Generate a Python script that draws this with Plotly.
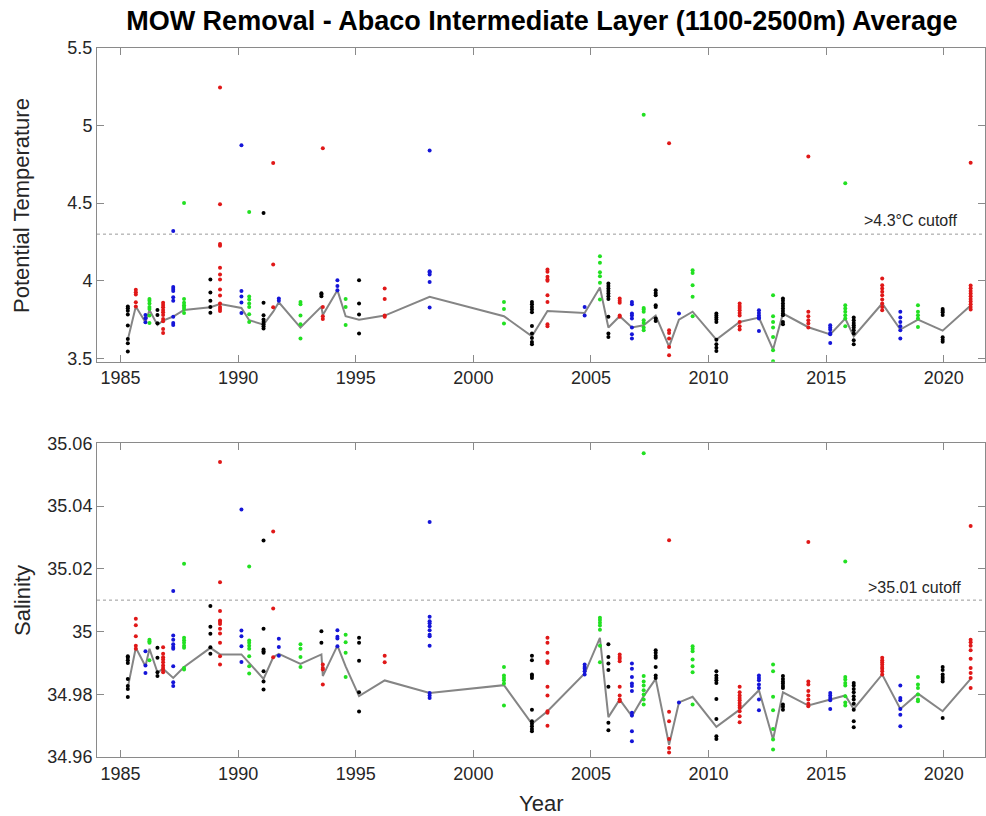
import plotly.graph_objects as go

# ---------------- data ----------------
cruise_years = [1985.31, 1985.65, 1986.06, 1986.23, 1986.57, 1986.81, 1987.24, 1987.70,
                1988.82, 1989.23, 1990.14, 1990.47, 1991.08, 1991.49, 1991.73, 1992.65,
                1993.54, 1993.60, 1994.22, 1994.57, 1995.14, 1996.23, 1998.14, 2001.30,
                2002.49, 2003.15, 2004.73, 2005.38, 2005.74, 2006.22, 2006.74, 2007.24,
                2007.75, 2008.32, 2008.74, 2009.32, 2010.33, 2011.32, 2012.14, 2012.74,
                2013.16, 2014.24, 2015.17, 2015.81, 2016.17, 2017.38, 2018.15, 2018.90,
                2019.95, 2021.14]

cruise_colors = ["k", "r", "b", "g"] * 12 + ["k", "r"]

temp_points = [
    [3.833, 3.822, 3.807, 3.782, 3.711, 3.624, 3.596, 3.543],
    [3.941, 3.926, 3.911, 3.861, 3.833],
    [3.779, 3.758, 3.732],
    [3.882, 3.870, 3.853, 3.831, 3.818, 3.775, 3.727],
    [3.811, 3.779, 3.725],
    [3.857, 3.844, 3.829, 3.811, 3.796, 3.779, 3.753, 3.738, 3.689, 3.663],
    [4.320, 3.960, 3.947, 3.934, 3.893, 3.870, 3.767, 3.727, 3.714],
    [4.501, 3.882, 3.857, 3.842, 3.831, 3.818, 3.792],
    [4.008, 3.924, 3.870, 3.831, 3.794],
    [5.246, 4.492, 4.236, 4.225, 4.083, 4.040, 4.008, 3.943, 3.904, 3.853, 3.831, 3.818, 3.805],
    [4.873, 3.934, 3.898, 3.859, 3.792],
    [4.443, 3.898, 3.879, 3.853, 3.831, 3.784, 3.734],
    [4.436, 3.857, 3.777, 3.749, 3.734, 3.719, 3.706, 3.691],
    [4.759, 4.105, 3.829],
    [3.885, 3.870],
    [3.863, 3.848, 3.775, 3.719, 3.627],
    [3.919, 3.911, 3.900],
    [4.854, 3.831, 3.771, 3.753],
    [4.003, 3.965, 3.939],
    [3.882, 3.831, 3.714],
    [4.003, 3.853, 3.782, 3.659],
    [3.950, 3.882, 3.775, 3.767],
    [4.839, 4.061, 4.053, 4.040, 3.992, 3.827],
    [3.863, 3.818, 3.724],
    [3.863, 3.848, 3.831, 3.814, 3.797, 3.708, 3.659, 3.630, 3.605, 3.590],
    [4.072, 4.057, 4.025, 4.008, 3.999, 3.906, 3.863, 3.719, 3.706],
    [3.831, 3.775],
    [4.158, 4.115, 4.055, 4.029, 3.986, 3.879],
    [3.982, 3.965, 3.950, 3.934, 3.917, 3.900, 3.882, 3.767, 3.659, 3.637],
    [3.885, 3.870, 3.857, 3.775, 3.767],
    [3.863, 3.848, 3.788, 3.775, 3.756, 3.698, 3.654, 3.627],
    [5.069, 3.824, 3.814, 3.799, 3.745, 3.727, 3.698, 3.680],
    [3.939, 3.921, 3.906, 3.842, 3.831, 3.756, 3.740],
    [4.886, 3.680, 3.663, 3.627, 3.572, 3.519],
    [3.788],
    [4.068, 4.050, 3.971, 3.896, 3.771],
    [3.788, 3.775, 3.762, 3.749, 3.734, 3.620, 3.590, 3.568, 3.547],
    [3.853, 3.837, 3.824, 3.809, 3.792, 3.775, 3.734, 3.706, 3.685],
    [3.809, 3.792, 3.775, 3.762, 3.756, 3.676],
    [3.906, 3.771, 3.734, 3.698, 3.637, 3.551, 3.480],
    [3.885, 3.870, 3.853, 3.837, 3.820, 3.805, 3.788, 3.777, 3.734, 3.719],
    [4.800, 3.799, 3.771, 3.745, 3.724, 3.698],
    [3.713, 3.698, 3.685, 3.663, 3.654, 3.598],
    [4.628, 3.842, 3.820, 3.799, 3.777, 3.756, 3.706],
    [3.762, 3.745, 3.727, 3.713, 3.698, 3.680, 3.659, 3.616, 3.590],
    [4.014, 3.971, 3.950, 3.928, 3.906, 3.879, 3.853, 3.831, 3.809],
    [3.799, 3.762, 3.734, 3.706, 3.680, 3.627],
    [3.842, 3.799, 3.777, 3.756, 3.702],
    [3.818, 3.807, 3.796, 3.779, 3.635, 3.620, 3.607],
    [4.761, 3.969, 3.952, 3.934, 3.917, 3.900, 3.882, 3.866, 3.848, 3.831, 3.814],
]

mean_temp = [3.620, 3.833, 3.732, 3.811, 3.714, 3.743, 3.769, 3.811, 3.829, 3.850,
             3.824, 3.745, 3.717, 3.800, 3.861, 3.698, 3.833, 3.779, 3.939, 3.771,
             3.749, 3.775, 3.896, 3.771, 3.641, 3.805, 3.792, 3.956, 3.698, 3.771,
             3.698, 3.713, 3.775, 3.575, 3.749, 3.800, 3.620, 3.734, 3.762, 3.556,
             3.788, 3.700, 3.654, 3.756, 3.641, 3.853, 3.685, 3.749, 3.678, 3.840]

sal_points = [
    [34.9921, 34.9916, 34.9908, 34.9900, 34.9849, 34.9826, 34.9817, 34.9791],
    [35.0041, 35.0020, 34.9985, 34.9955, 34.9945],
    [34.9937, 34.9892, 34.9868],
    [34.9974, 34.9969, 34.9964, 34.9908],
    [34.9948, 34.9916, 34.9870, 34.9858],
    [34.9950, 34.9929, 34.9918, 34.9911, 34.9902, 34.9892, 34.9884, 34.9877, 34.9870],
    [35.0129, 34.9987, 34.9974, 34.9959, 34.9951, 34.9945, 34.9889, 34.9838, 34.9826],
    [35.0216, 34.9980, 34.9972, 34.9964, 34.9955, 34.9948, 34.9884, 34.9879],
    [35.0081, 35.0015, 34.9993, 34.9950, 34.9929],
    [35.0540, 35.0157, 35.0065, 35.0035, 35.0030, 35.0024, 35.0009, 34.9994, 34.9964, 34.9921, 34.9895],
    [35.0389, 35.0003, 34.9985, 34.9953, 34.9903],
    [35.0207, 34.9971, 34.9964, 34.9955, 34.9945, 34.9921, 34.9889, 34.9866],
    [35.0290, 35.0009, 34.9943, 34.9937, 34.9932, 34.9873, 34.9841, 34.9815],
    [35.0319, 35.0073, 34.9918],
    [34.9977, 34.9951, 34.9923],
    [34.9959, 34.9945, 34.9919, 34.9887],
    [35.0001, 34.9964],
    [34.9895, 34.9884, 34.9879, 34.9831],
    [35.0004, 34.9983, 34.9978, 34.9953],
    [34.9990, 34.9966, 34.9932, 34.9855],
    [34.9980, 34.9964, 34.9907, 34.9806, 34.9745],
    [34.9923, 34.9902],
    [35.0349, 35.0047, 35.0033, 35.0026, 35.0017, 35.0004, 34.9990, 34.9985, 34.9955, 34.9804, 34.9796, 34.9788],
    [34.9887, 34.9860, 34.9852, 34.9845, 34.9834, 34.9764],
    [34.9923, 34.9908, 34.9863, 34.9858, 34.9852, 34.9751, 34.9714, 34.9706, 34.9698, 34.9689, 34.9682],
    [34.9980, 34.9964, 34.9932, 34.9905, 34.9900, 34.9824, 34.9796, 34.9746, 34.9741, 34.9700],
    [34.9895, 34.9887, 34.9881, 34.9873, 34.9863],
    [35.0044, 35.0037, 35.0028, 35.0019, 35.0006, 34.9955, 34.9902],
    [34.9959, 34.9919, 34.9898, 34.9877, 34.9824, 34.9709, 34.9685],
    [34.9927, 34.9919, 34.9913, 34.9905, 34.9824, 34.9796, 34.9783, 34.9778],
    [34.9898, 34.9881, 34.9855, 34.9834, 34.9826, 34.9810, 34.9741, 34.9732, 34.9682, 34.9650],
    [35.0568, 34.9858, 34.9841, 34.9828, 34.9813, 34.9799, 34.9783, 34.9767],
    [34.9940, 34.9932, 34.9923, 34.9916, 34.9887, 34.9860, 34.9852],
    [35.0291, 34.9744, 34.9714, 34.9657, 34.9629, 34.9614],
    [34.9774],
    [34.9953, 34.9945, 34.9937, 34.9911, 34.9889, 34.9870, 34.9767],
    [34.9873, 34.9860, 34.9852, 34.9845, 34.9836, 34.9785, 34.9721, 34.9666, 34.9657],
    [34.9824, 34.9806, 34.9796, 34.9788, 34.9781, 34.9772, 34.9764, 34.9757, 34.9746, 34.9730, 34.9711],
    [34.9860, 34.9852, 34.9845, 34.9831, 34.9820, 34.9783, 34.9749],
    [34.9895, 34.9873, 34.9792, 34.9749, 34.9689, 34.9656, 34.9624],
    [34.9858, 34.9849, 34.9841, 34.9834, 34.9826, 34.9820, 34.9767, 34.9760, 34.9751],
    [35.0285, 34.9841, 34.9831, 34.9810, 34.9796, 34.9783, 34.9770, 34.9762],
    [34.9804, 34.9796, 34.9788, 34.9781, 34.9753],
    [35.0223, 34.9855, 34.9847, 34.9836, 34.9828, 34.9794, 34.9774, 34.9764],
    [34.9836, 34.9828, 34.9817, 34.9806, 34.9794, 34.9783, 34.9770, 34.9751, 34.9714, 34.9695],
    [34.9916, 34.9908, 34.9902, 34.9895, 34.9887, 34.9881, 34.9873, 34.9863],
    [34.9828, 34.9788, 34.9781, 34.9753, 34.9735, 34.9698],
    [34.9855, 34.9831, 34.9820, 34.9799, 34.9783, 34.9778],
    [34.9887, 34.9877, 34.9863, 34.9855, 34.9849, 34.9841, 34.9724],
    [35.0336, 34.9974, 34.9966, 34.9955, 34.9940, 34.9913, 34.9884, 34.9868, 34.9852, 34.9820],
]

mean_sal = [34.9822, 34.9948, 34.9889, 34.9945, 34.9870, 34.9881, 34.9852, 34.9887, 34.9948, 34.9927,
            34.9927, 34.9900, 34.9849, 34.9918, 34.9929, 34.9897, 34.9927, 34.9858, 34.9955, 34.9889,
            34.9794, 34.9844, 34.9804, 34.9829, 34.9706, 34.9746, 34.9866, 34.9980, 34.9727, 34.9783,
            34.9730, 34.9794, 34.9849, 34.9639, 34.9774, 34.9792, 34.9696, 34.9751, 34.9813, 34.9656,
            34.9806, 34.9764, 34.9783, 34.9796, 34.9753, 34.9863, 34.9753, 34.9802, 34.9746, 34.9849]

temp_cutoff = 4.3
sal_cutoff = 35.01
temp_cutoff_label = ">4.3°C cutoff"
sal_cutoff_label = ">35.01 cutoff"

x_ticks = [1985, 1990, 1995, 2000, 2005, 2010, 2015, 2020]
temp_ticks = [3.5, 4, 4.5, 5, 5.5]
temp_ticktext = ["3.5", "4", "4.5", "5", "5.5"]
sal_ticks = [34.96, 34.98, 35.0, 35.02, 35.04, 35.06]
sal_ticktext = ["34.96", "34.98", "35", "35.02", "35.04", "35.06"]

title_text = "MOW Removal - Abaco Intermediate Layer (1100-2500m) Average"

# ---------------- styling ----------------
COLOR_MAP = {"k": "#000000", "r": "#e01818", "b": "#1515d8", "g": "#22e022"}
FONT = "Liberation Sans, Arial, Helvetica, sans-serif"
AXIS_COL = "#8a8a8a"
TXT_COL = "#262626"

fig = go.Figure()


def add_points(values, xa, ya):
    for code in ["k", "r", "b", "g"]:
        xs, ys = [], []
        for yr, col, vals in zip(cruise_years, cruise_colors, values):
            if col == code:
                xs.extend([yr] * len(vals))
                ys.extend(vals)
        fig.add_trace(go.Scatter(x=xs, y=ys, mode="markers", xaxis=xa, yaxis=ya,
                                 marker=dict(size=4, color=COLOR_MAP[code], line=dict(width=0)),
                                 showlegend=False, hoverinfo="x+y"))


def add_mean(values, xa, ya):
    fig.add_trace(go.Scatter(x=cruise_years, y=values, mode="lines", xaxis=xa, yaxis=ya,
                             line=dict(color="#858585", width=2), showlegend=False))


add_mean(mean_temp, "x", "y")
add_points(temp_points, "x", "y")
add_mean(mean_sal, "x2", "y2")
add_points(sal_points, "x2", "y2")

# cutoff lines
fig.add_shape(type="line", xref="x domain", yref="y", x0=0, x1=1, y0=temp_cutoff, y1=temp_cutoff,
              line=dict(color="#9a9a9a", width=1, dash="3px,3px"))
fig.add_shape(type="line", xref="x2 domain", yref="y2", x0=0, x1=1, y0=sal_cutoff, y1=sal_cutoff,
              line=dict(color="#9a9a9a", width=1, dash="3px,3px"))

axis_common = dict(showline=True, linecolor=AXIS_COL, linewidth=1, mirror="ticks",
                   ticks="inside", ticklen=7, tickcolor=AXIS_COL, tickwidth=1,
                   showgrid=False, zeroline=False,
                   tickfont=dict(family=FONT, size=18, color=TXT_COL))

x_range = [1984, 2021.75]

fig.update_layout(
    width=986, height=816,
    margin=dict(l=97, r=1, t=48, b=59),
    paper_bgcolor="white", plot_bgcolor="white",
    xaxis=dict(domain=[0, 1], range=x_range, tickvals=x_ticks, anchor="y", **axis_common),
    yaxis=dict(domain=[0.5576, 1.0], range=[3.478, 5.5], tickvals=temp_ticks,
               ticktext=temp_ticktext, anchor="x", **axis_common),
    xaxis2=dict(domain=[0, 1], range=x_range, tickvals=x_ticks, anchor="y2", **axis_common),
    yaxis2=dict(domain=[0.0, 0.4425], range=[34.96, 35.06], tickvals=sal_ticks,
                ticktext=sal_ticktext, anchor="x2", **axis_common),
    title=dict(text="<b>" + title_text + "</b>", x=0.5495, xanchor="center",
               y=1 - 21 / 816, yanchor="middle", yref="container",
               font=dict(family=FONT, size=27, color="#000000")),
    showlegend=False,
)

annots = [
    dict(text=temp_cutoff_label, xref="x", yref="y", x=2020.65, y=temp_cutoff,
         xanchor="right", yanchor="bottom", yshift=3, showarrow=False,
         font=dict(family=FONT, size=16, color=TXT_COL)),
    dict(text=sal_cutoff_label, xref="x2", yref="y2", x=2020.8, y=sal_cutoff,
         xanchor="right", yanchor="bottom", yshift=2, showarrow=False,
         font=dict(family=FONT, size=16, color=TXT_COL)),
    dict(text="Potential Temperature", xref="paper", yref="paper", x=-0.0845, y=0.7786,
         textangle=-90, showarrow=False, xanchor="center", yanchor="middle",
         font=dict(family=FONT, size=22, color=TXT_COL)),
    dict(text="Salinity", xref="paper", yref="paper", x=-0.0845, y=0.2214,
         textangle=-90, showarrow=False, xanchor="center", yanchor="middle",
         font=dict(family=FONT, size=22, color=TXT_COL)),
    dict(text="Year", xref="paper", yref="paper", x=0.5, y=-0.0649,
         showarrow=False, xanchor="center", yanchor="middle",
         font=dict(family=FONT, size=22, color=TXT_COL)),
]
fig.update_layout(annotations=annots)

fig.write_html("out.html")
